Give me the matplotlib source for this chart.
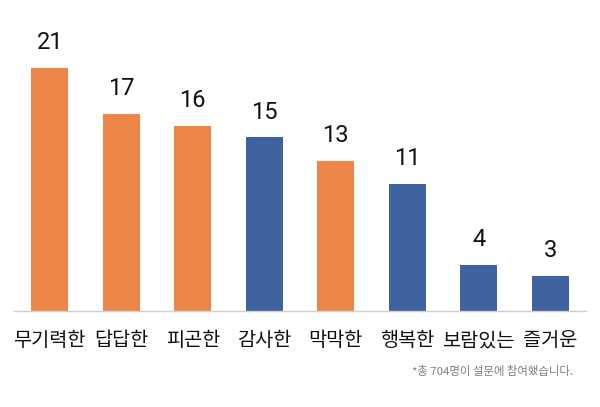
import matplotlib
matplotlib.use("Agg")
import matplotlib.pyplot as plt

labels = ["무기력한", "답답한", "피곤한", "감사한", "막막한", "행복한", "보람있는", "즐거운"]
values = [21, 17, 16, 15, 13, 11, 4, 3]
groups = ["neg", "neg", "neg", "pos", "neg", "pos", "pos", "pos"]
note = "*총 704명이 설문에 참여했습니다."

colors = {"neg": "#EF8649", "pos": "#3F62A0"}
plt.rcParams['font.family'] = ['Noto Sans CJK KR', 'DejaVu Sans']

fig = plt.figure(figsize=(6, 4.07), dpi=100)
# axes placed in pixels: x 14..586, baseline at y=311, top at y=20
ax = fig.add_axes([14 / 600, (407 - 311) / 407, 572 / 600, 291 / 407])

x = range(len(values))
bars = ax.bar(x, values, width=0.52, color=[colors[g] for g in groups], zorder=2)

for xi, v in zip(x, values):
    ax.annotate(str(v), (xi, v), xytext=(0, 10), textcoords="offset points",
                ha="center", va="bottom", fontsize=17, family=["Roboto", "DejaVu Sans"],
                color="#111111")

ax.set_xlim(-0.5, len(values) - 0.5)
ax.set_ylim(0, 291 / 11.57)
ax.set_xticks(list(x))
ax.set_xticklabels(labels, fontsize=14.2, color="#111111")
ax.tick_params(axis="x", length=0, pad=14)
ax.set_yticks([])
for side in ["top", "right", "left"]:
    ax.spines[side].set_visible(False)
ax.spines["bottom"].set_color("#D0D0D0")
ax.spines["bottom"].set_linewidth(1)

fig.text(573 / 600, 1 - 372 / 407, note, ha="right", va="center",
         fontsize=8.2, color="#7F7F7F")

fig.savefig("out.png", dpi=100)
